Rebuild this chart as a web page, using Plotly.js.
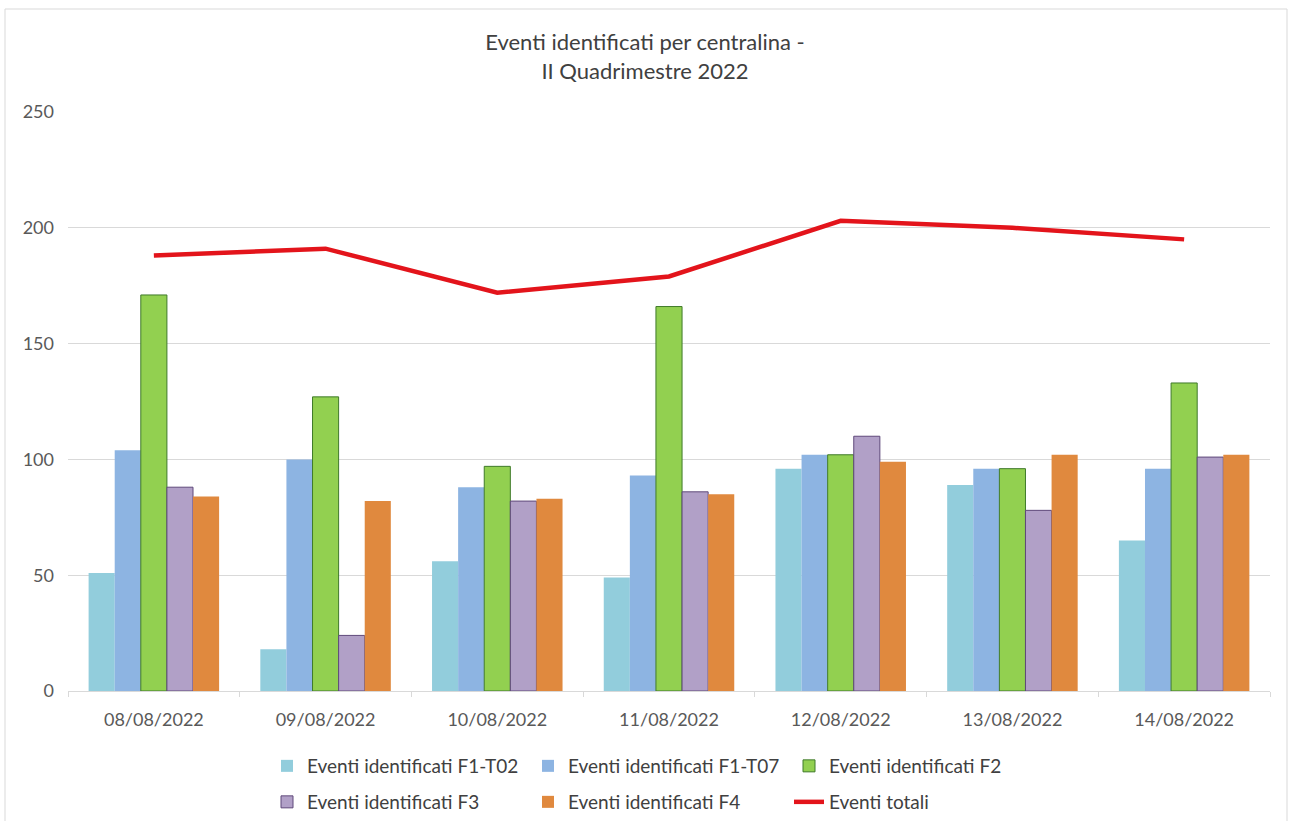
<!DOCTYPE html>
<html>
<head>
<meta charset="utf-8">
<script src="https://cdn.plot.ly/plotly-3.0.1.min.js"></script>
<style>html,body{margin:0;padding:0;background:#fff;}#chart{width:1290px;height:821px;}</style>
</head>
<body>
<div id="chart"></div>
<script>
const dates = ["08/08/2022","09/08/2022","10/08/2022","11/08/2022","12/08/2022","13/08/2022","14/08/2022"];
const f1t02 = [51, 18, 56, 49, 96, 89, 65];
const f1t07 = [104, 100, 88, 93, 102, 96, 96];
const f2    = [171, 127, 97, 166, 102, 96, 133];
const f3    = [88, 24, 82, 86, 110, 78, 101];
const f4    = [84, 82, 83, 85, 99, 102, 102];
const totali = [188, 191, 172, 179, 203, 200, 195];
const yTicks = [0, 50, 100, 150, 200, 250];

const FONT = "Lato, 'Open Sans', sans-serif";

function barTrace(name, y, color, lineColor, legend) {
  return {
    type: "bar", name: name, x: dates, y: y,
    marker: {color: color, line: {color: lineColor || color, width: lineColor ? 1 : 0}},
    legend: legend, hoverinfo: "y+name"
  };
}

const traces = [
  barTrace("Eventi identificati F1-T02", f1t02, "#92cddc", null, "legend"),
  barTrace("Eventi identificati F1-T07", f1t07, "#8db4e2", null, "legend"),
  barTrace("Eventi identificati F2", f2, "#92d050", "#3f7a2a", "legend"),
  barTrace("Eventi identificati F3", f3, "#b1a0c7", "#5f497a", "legend2"),
  barTrace("Eventi identificati F4", f4, "#e0893e", null, "legend2"),
  {
    type: "scatter", mode: "lines", name: "Eventi totali", x: dates, y: totali,
    line: {color: "#e3141b", width: 4.5}, legend: "legend2"
  }
];

const legendCommon = {
  orientation: "h", xref: "container", yref: "container",
  xanchor: "left", yanchor: "middle",
  entrywidth: 216, entrywidthmode: "pixels",
  font: {family: FONT, size: 19, color: "#404040"},
  bgcolor: "rgba(0,0,0,0)", itemwidth: 30, traceorder: "normal"
};

const layout = {
  width: 1290, height: 821,
  paper_bgcolor: "#ffffff", plot_bgcolor: "#ffffff",
  margin: {l: 68, r: 20, t: 112, b: 130},
  font: {family: FONT, color: "#595959"},
  title: {
    text: "Eventi identificati per centralina -<br>II Quadrimestre 2022",
    font: {family: FONT, size: 22, color: "#404040"},
    x: 0.5, xref: "container", xanchor: "center",
    y: 1 - 50/821, yref: "container", yanchor: "middle"
  },
  barmode: "group", bargap: 0.24, bargroupgap: 0,
  xaxis: {
    type: "category", tickfont: {family: FONT, size: 18, color: "#595959"},
    showline: true, linecolor: "#d9d9d9", linewidth: 1,
    ticks: "outside", tickson: "boundaries", ticklen: 5, tickcolor: "#d9d9d9",
    showgrid: false, fixedrange: true, ticklabelstandoff: 12
  },
  yaxis: {
    range: [0, 250], tickvals: yTicks, ticktext: yTicks.map(String),
    tickfont: {family: FONT, size: 18, color: "#595959"},
    gridcolor: "#d9d9d9", gridwidth: 1, zeroline: false, showline: false,
    ticks: "", ticklabelstandoff: 13, fixedrange: true
  },
  legend: Object.assign({}, legendCommon, {x: 267/1290, y: 1 - 766/821}),
  legend2: Object.assign({}, legendCommon, {x: 267/1290, y: 1 - 802/821}),
  shapes: [{
    type: "rect", xref: "paper", yref: "paper",
    x0: (5 - 68)/1202, x1: (1287 - 68)/1202,
    y0: (691 - 830)/579, y1: (691 - 9)/579,
    line: {color: "#d9d9d9", width: 1}, fillcolor: "rgba(0,0,0,0)", layer: "below"
  }],
  showlegend: true
};

Plotly.newPlot("chart", traces, layout, {displayModeBar: false, responsive: false});
</script>
</body>
</html>
